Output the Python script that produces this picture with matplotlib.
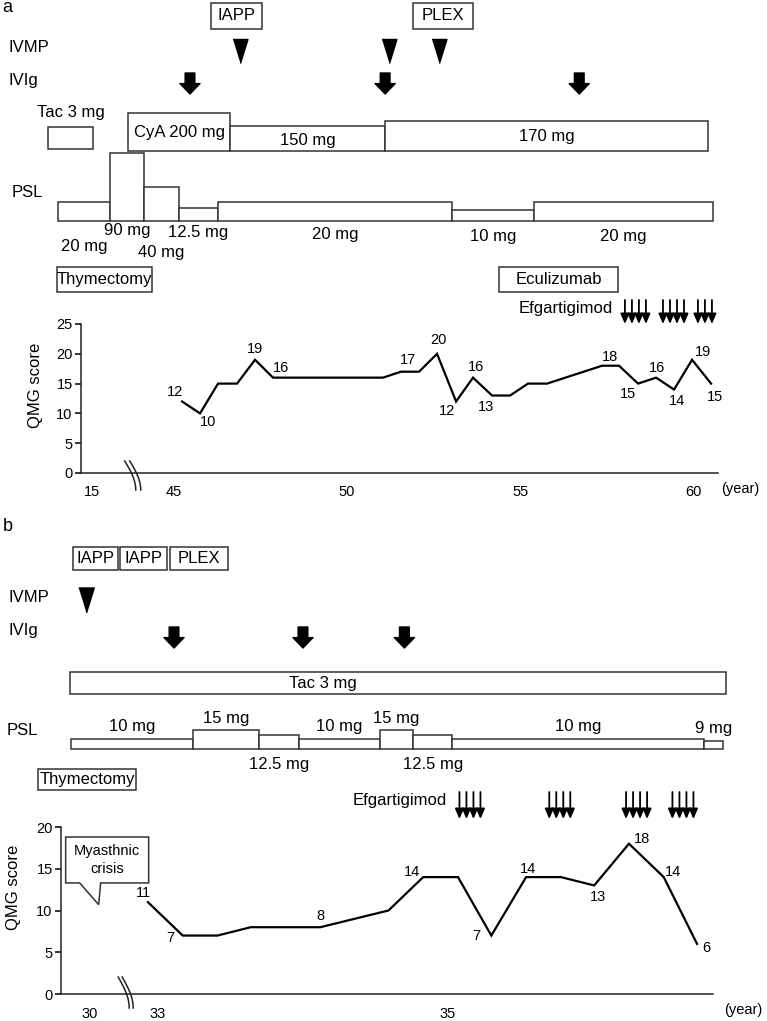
import numpy as np
import matplotlib.pyplot as plt
from matplotlib.patches import Rectangle, Polygon, FancyArrowPatch
from matplotlib.lines import Line2D

plt.rcParams['font.family'] = ['Liberation Sans', 'DejaVu Sans']

W, H = 767, 1021

# ---- panel a data (years; the part left of the break is compressed) ----
a_events = ['IAPP', 'PLEX']
a_event_start = [46.07, 51.91]
a_event_end = [47.54, 53.64]
a_ivmp = [46.91, 51.21, 52.66]
a_ivig = [45.46, 51.10, 56.71]
a_tac = [41.36, 42.66]
a_cya_edges = [43.67, 46.62, 51.10, 60.43]
a_cya_dose = [200, 150, 170]
a_cya_labels = ['CyA 200 mg', '150 mg', '170 mg']
a_psl_edges = [41.65, 43.15, 44.13, 45.14, 46.27, 53.03, 55.40, 60.58]
a_psl_dose = [20, 90, 40, 12.5, 20, 10, 20]
a_periods = ['Thymectomy', 'Eculizumab']
a_period_start = [41.62, 54.39]
a_period_end = [44.36, 57.83]
a_efg = [58.03, 59.13, 60.14]
a_qmg_t = [45.23, 45.75, 46.27, 46.82, 47.34, 47.86, 51.04, 51.56, 52.08, 52.60,
           53.15, 53.64, 54.19, 54.71, 55.23, 55.78, 57.37, 57.86, 58.41, 58.93,
           59.45, 59.97, 60.52]
a_qmg = [12, 10, 15, 15, 19, 16, 16, 17, 17, 20, 12, 16, 13, 13, 15, 15, 18, 18,
         15, 16, 14, 19, 15]
a_labeled = [0, 1, 4, 5, 7, 9, 10, 11, 12, 16, 18, 19, 20, 21, 22]
a_xticks = [42.63, 45, 50, 55, 60]
a_xticklabels = ['15', '45', '50', '55', '60']
a_break = 43.82

# ---- panel b data ----
b_events = ['IAPP', 'IAPP', 'PLEX']
b_event_start = [32.41, 32.74, 33.08]
b_event_end = [32.72, 33.06, 33.48]
b_ivmp = [32.50]
b_ivig = [33.11, 34.00, 34.70]
b_tac = [32.39, 36.92]
b_psl_edges = [32.40, 33.24, 33.70, 33.97, 34.53, 34.76, 35.03, 36.77, 36.90]
b_psl_dose = [10, 15, 12.5, 10, 15, 12.5, 10, 9]
b_periods = ['Thymectomy']
b_period_start = [32.17]
b_period_end = [32.85]
b_efg = [35.08, 35.70, 36.23, 36.55]
b_qmg_t = [32.93, 33.17, 33.41, 33.64, 34.12, 34.59, 34.83, 35.07, 35.30, 35.54,
           35.78, 36.01, 36.25, 36.49, 36.72]
b_qmg = [11, 7, 7, 8, 8, 10, 14, 14, 7, 14, 14, 13, 18, 14, 6]
b_labeled = [0, 1, 4, 6, 8, 9, 11, 12, 13, 14]
b_xticks = [32.53, 33, 35]
b_xticklabels = ['30', '33', '35']
b_break = 32.78
b_crisis = [32.59, 10.7]   # time / score the callout points to

EC = '#333333'
FS = 12

fig = plt.figure(figsize=(W / 100, H / 100), dpi=100)


def ftext(x, y, s, **kw):
    kw.setdefault('fontsize', FS)
    kw.setdefault('va', 'center')
    fig.text(x / W, 1 - y / H, s, **kw)


def make_axes(left, right, top, bottom, ttop, xlim, ylim):
    axq = fig.add_axes([left / W, 1 - bottom / H, (right - left) / W, (bottom - top) / H])
    axt = fig.add_axes([left / W, 1 - top / H, (right - left) / W, (top - ttop) / H])
    axq.set_xlim(*xlim)
    axt.set_xlim(*xlim)
    axq.set_ylim(*ylim)
    axt.set_ylim(top, ttop)
    axt.axis('off')
    return axq, axt


def px2x(ax, n):
    x0, x1 = ax.get_xlim()
    return n * (x1 - x0) / (ax.get_position().width * W)


def box(ax, x0, x1, ytop, ybot, label=None, fs=FS, dy=0):
    ax.add_patch(Rectangle((x0, ytop), x1 - x0, ybot - ytop, fc='white', ec=EC,
                           lw=1.1, clip_on=False))
    if label:
        ax.text((x0 + x1) / 2, (ytop + ybot) / 2 + dy, label, ha='center', va='center',
                fontsize=fs, clip_on=False)


def triangles(ax, xs, y, size):
    tri = [(-0.62, 1), (0.62, 1), (0, -1)]
    ax.plot(xs, [y] * len(xs), ls='none', marker=tri, ms=size, color='black', clip_on=False)


def thick_arrows(ax, xs, y0, y1):
    for x in xs:
        ax.add_patch(FancyArrowPatch((x, y0), (x, y1), arrowstyle='simple,head_length=0.75,'
                                     'head_width=1.45,tail_width=0.7', mutation_scale=10,
                                     color='black', shrinkA=0, shrinkB=0, clip_on=False))


def thin_arrows(ax, starts, y0, y1):
    step = px2x(ax, 7)
    for s in starts:
        for k in range(4):
            x = s + k * step
            ax.annotate('', xy=(x, y1), xytext=(x, y0),
                        arrowprops=dict(arrowstyle='-|>,head_length=0.6,head_width=0.26',
                                        mutation_scale=10, color='black', lw=1.3,
                                        shrinkA=0, shrinkB=0))


def dose_h(d, ref, ref_h, p):
    return ref_h * (np.asarray(d, float) / ref) ** p


def style_qmg(ax, ticks, labels, yticks):
    for s in ['top', 'right']:
        ax.spines[s].set_visible(False)
    for s in ['left', 'bottom']:
        ax.spines[s].set_linewidth(1.1)
        ax.spines[s].set_color('#222222')
    ax.set_xticks(ticks)
    ax.set_xticklabels(labels)
    ax.set_yticks(yticks)
    ax.tick_params(axis='x', length=0, pad=9, labelsize=10.5)
    ax.tick_params(axis='y', length=4, width=1.1, labelsize=10.5, pad=2)
    ax.set_ylabel('QMG score', fontsize=12)


def break_mark(ax, xb, ytop, ybot, gap):
    x0, x1 = ax.get_xlim()
    bb = ax.get_position()
    xpx = bb.x0 * W + (xb - x0) / (x1 - x0) * bb.width * W
    t = np.linspace(0, 1, 30)
    for g in (-gap / 2, gap / 2):
        xs = xpx - 6 + g + 11 * np.sin(np.pi * t / 2)
        ys = ytop + (ybot - ytop) * t
        fig.add_artist(Line2D(xs / W, 1 - ys / H, color='#222222', lw=1.1))


def qmg_line(ax, t, v, labeled, offs):
    ax.plot(t, v, color='black', lw=1.6, solid_joinstyle='miter')
    for i, (dx, dy) in zip(labeled, offs):
        ax.annotate(str(v[i]), (t[i], v[i]), xytext=(dx, -dy), textcoords='offset pixels',
                    ha='center', va='center', fontsize=10.5)


# ================= panel a =================
axq, axt = make_axes(81, 718, 324, 473, 0, (42.31, 60.72), (0, 25))
ftext(2, 8, 'a', fontsize=13)
ftext(8, 47, 'IVMP')
ftext(8, 80, 'IVIg')
ftext(12, 192, 'PSL')

for lab, s, e in zip(a_events, a_event_start, a_event_end):
    box(axt, s, e, 3, 29, lab, fs=12)
triangles(axt, a_ivmp, 51, 17.3)
thick_arrows(axt, a_ivig, 73, 94)

box(axt, a_tac[0], a_tac[1], 127, 149)
axt.text(np.mean(a_tac), 113, 'Tac 3 mg', ha='center', va='center', fontsize=FS)

cya_h = dose_h(a_cya_dose, 200, 38, 1.46)
for i, lab in enumerate(a_cya_labels):
    top = 151 - cya_h[i]
    box(axt, a_cya_edges[i], a_cya_edges[i + 1], top, 151, lab, dy=2 if i == 1 else 0)

psl_h = dose_h(a_psl_dose, 20, 19, 0.85)
a_lab_dy = [26, 10, 31, 11, 14, 15, 15]
for i, d in enumerate(a_psl_dose):
    box(axt, a_psl_edges[i], a_psl_edges[i + 1], 221 - psl_h[i], 221)
    axt.text((a_psl_edges[i] + a_psl_edges[i + 1]) / 2, 221 + a_lab_dy[i], f'{d:g} mg',
             ha='center', va='center', fontsize=FS)

for lab, s, e in zip(a_periods, a_period_start, a_period_end):
    box(axt, s, e, 267, 292, lab)
axt.text(a_efg[0] - px2x(axt, 12), 309, 'Efgartigimod', ha='right', va='center', fontsize=FS)
thin_arrows(axt, a_efg, 300, 324)

style_qmg(axq, a_xticks, a_xticklabels, [0, 5, 10, 15, 20, 25])
axq.yaxis.set_label_coords(-0.06, 0.59)
qmg_line(axq, a_qmg_t, a_qmg, a_labeled,
         [(-7, -9), (8, 9), (0, -11), (8, -10), (7, -12), (1, -14), (-9, 10), (3, -11),
          (-6, 11), (8, -9), (-10, 10), (1, -10), (3, 11), (11, -8), (4, 13)])
break_mark(axq, a_break, 461, 490, 5)
ftext(740, 489, '(year)', fontsize=10.5, ha='center')

# ================= panel b =================
axq, axt = make_axes(61, 713, 827, 994, 505, (32.33, 36.83), (0, 20))
ftext(3, 526, 'b', fontsize=13)
ftext(8, 597, 'IVMP')
ftext(8, 631, 'IVIg')
ftext(7, 730, 'PSL')

for lab, s, e in zip(b_events, b_event_start, b_event_end):
    box(axt, s, e, 547, 570, lab, fs=12)
triangles(axt, b_ivmp, 600, 18)
thick_arrows(axt, b_ivig, 627, 648)

box(axt, b_tac[0], b_tac[1], 672, 694)
axt.text(34.14, 683, 'Tac 3 mg', ha='center', va='center', fontsize=FS)

psl_h = dose_h(b_psl_dose, 15, 19, 1.58)
b_lab_pos = ['up', 'up', 'down', 'up', 'up', 'down', 'up', 'up']
for i, d in enumerate(b_psl_dose):
    top = 749 - psl_h[i]
    box(axt, b_psl_edges[i], b_psl_edges[i + 1], top, 749)
    y = top - 12 if b_lab_pos[i] == 'up' else 749 + 15
    axt.text((b_psl_edges[i] + b_psl_edges[i + 1]) / 2, y, f'{d:g} mg',
             ha='center', va='center', fontsize=FS)

for lab, s, e in zip(b_periods, b_period_start, b_period_end):
    box(axt, s, e, 769, 790, lab)
axt.text(b_efg[0] - px2x(axt, 13), 800, 'Efgartigimod', ha='right', va='center', fontsize=FS)
thin_arrows(axt, b_efg, 792, 819)

style_qmg(axq, b_xticks, b_xticklabels, [0, 5, 10, 15, 20])
axq.yaxis.set_label_coords(-0.062, 0.64)
qmg_line(axq, b_qmg_t, b_qmg, b_labeled,
         [(-4, -9), (-12, 2), (0, -11), (-11, -5), (-15, 0), (2, -8), (4, 12), (13, -5),
          (9, -5), (9, 4)])
break_mark(axq, b_break, 977, 1008, 4)
ftext(743, 1010, '(year)', fontsize=10.5, ha='center')

# myasthenic crisis callout
cx, cy = b_crisis
bx0, bx1 = cx - px2x(axq, 33), cx + px2x(axq, 50)
by0, by1 = 13.3, 18.8
callout = [(bx0, by0), (cx - px2x(axq, 19), by0), (cx, cy), (cx + px2x(axq, 2), by0),
           (bx1, by0), (bx1, by1), (bx0, by1)]
axq.add_patch(Polygon(callout, closed=True, fc='white', ec=EC, lw=1.1, clip_on=False))
axq.text((bx0 + bx1) / 2, (by0 + by1) / 2, 'Myasthnic\ncrisis', ha='center', va='center',
         fontsize=10.5, linespacing=1.3)

fig.savefig('out.png', dpi=100)
